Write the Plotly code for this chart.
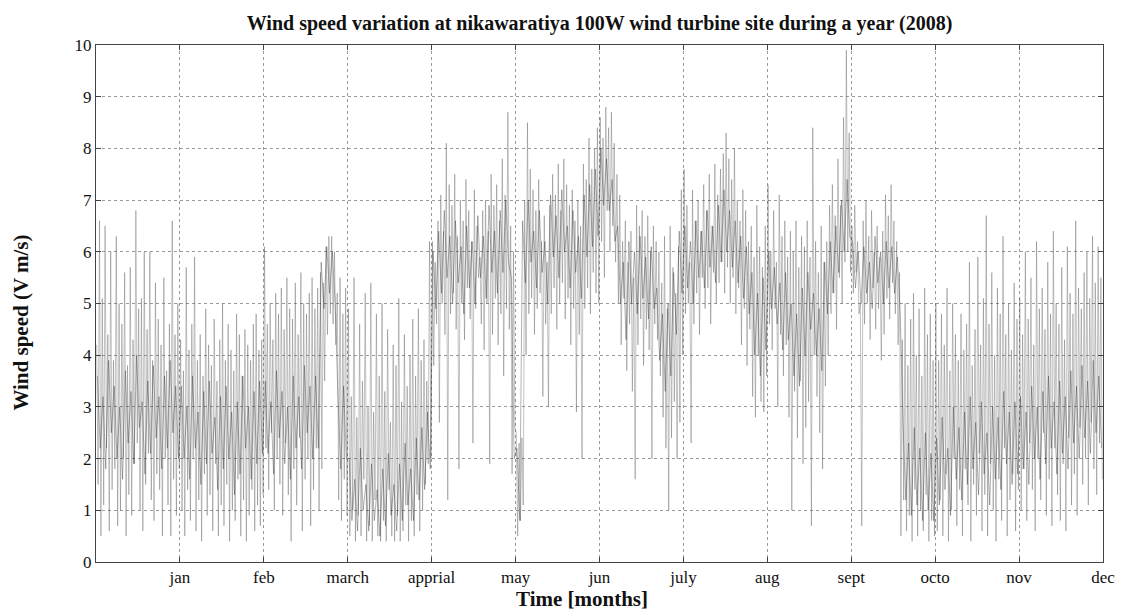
import plotly.graph_objects as go

# Month tick labels (x axis in month units, 0..12)
month_ticks = [1, 2, 3, 4, 5, 6, 7, 8, 9, 10, 11, 12]
month_labels = ["jan", "feb", "march", "apprial", "may", "jun", "july",
                "aug", "sept", "octo", "nov", "dec"]

# Daily maximum / minimum wind speed (m/s), 30 readings per month segment,
# read from the picture segment by segment (segment k spans x = k .. k+1)
daily_max = [
    # 0-1
    4.2, 6.6, 5.1, 6.5, 4.4, 6.0, 3.9, 6.3, 5.0, 4.6, 5.6, 3.8, 5.7, 4.3, 6.8,
    4.9, 5.1, 6.0, 4.5, 6.0, 3.9, 5.4, 4.7, 4.2, 5.5, 3.7, 4.6, 6.6, 4.4, 5.0,
    # 1-2
    4.3, 3.7, 5.7, 4.1, 4.6, 5.9, 3.9, 4.4, 3.6, 4.9, 4.2, 3.8, 4.7, 3.5, 4.3,
    5.0, 3.9, 4.6, 4.1, 3.7, 4.8, 4.4, 3.6, 4.5, 4.2, 3.9, 4.6, 4.8, 4.1, 4.3,
    # 2-3
    6.1, 4.6, 5.0, 4.3, 5.2, 4.8, 5.3, 4.5, 5.5, 4.9, 4.7, 5.4, 4.4, 5.6, 5.0,
    4.8, 5.2, 5.5, 4.9, 5.3, 5.6, 5.4, 6.1, 6.3, 6.3, 6.0, 5.2, 5.5, 4.8, 5.3,
    # 3-4
    4.9, 3.2, 5.5, 2.8, 4.6, 3.5, 5.2, 3.0, 5.4, 2.9, 4.8, 3.6, 5.0, 3.3, 4.5,
    2.7, 4.2, 3.8, 5.1, 3.1, 4.4, 3.4, 4.0, 4.7, 3.6, 4.9, 3.9, 4.3, 3.5, 6.2,
    # 4-5
    6.2, 5.8, 6.6, 7.1, 6.4, 8.1, 7.3, 6.9, 7.5, 6.3, 7.0, 6.6, 7.4, 6.8, 6.2,
    7.2, 6.5, 5.9, 6.8, 7.0, 6.4, 7.5, 6.9, 7.3, 6.6, 7.8, 7.1, 8.7, 6.5, 6.0,
    # 5-6
    2.5, 2.3, 2.4, 7.0, 8.5, 7.6, 7.2, 6.8, 7.4, 6.2, 6.7, 5.8, 6.9, 7.5, 7.1,
    7.7, 6.8, 7.8, 7.3, 6.9, 7.2, 6.6, 7.0, 6.5, 7.7, 7.4, 8.2, 7.6, 8.0, 8.4,
    # 6-7
    8.6, 8.2, 8.8, 8.4, 8.7, 8.1, 7.5, 7.1, 6.2, 6.6, 5.8, 6.4, 5.5, 6.9, 6.5,
    6.8, 6.3, 6.7, 6.0, 6.5, 6.2, 6.0, 5.4, 6.3, 4.9, 6.5, 5.7, 5.2, 6.1, 7.2,
    # 7-8
    7.6, 6.9, 5.8, 7.2, 6.6, 7.0, 6.4, 7.3, 6.8, 7.5, 6.5, 7.7, 7.1, 7.6, 7.9,
    8.3, 7.8, 7.4, 8.0, 7.0, 6.6, 7.2, 6.8, 6.2, 6.5, 5.9, 6.9, 6.1, 5.7, 6.5,
    # 8-9
    7.3, 6.0, 6.8, 5.8, 7.1, 6.3, 6.6, 5.9, 6.4, 6.0, 6.6, 5.7, 6.3, 6.1, 6.6,
    5.9, 8.4, 6.2, 5.6, 6.5, 5.8, 6.2, 6.9, 7.3, 6.7, 7.8, 6.9, 8.6, 9.9, 8.3,
    # 9-10
    6.5, 6.9, 6.2, 5.0, 6.6, 7.0, 6.3, 6.8, 6.0, 6.5, 5.9, 6.4, 7.1, 6.7, 7.3,
    6.6, 6.2, 5.6, 4.3, 5.0, 3.8, 4.7, 5.2, 4.0, 4.9, 3.6, 5.3, 4.4, 4.8, 3.9,
    # 10-11
    5.0, 3.9, 4.8, 4.2, 5.3, 3.7, 5.0, 4.4, 3.9, 4.8, 4.1, 4.6, 5.8, 3.8, 4.5,
    5.9, 4.2, 5.1, 6.7, 4.6, 5.6, 4.0, 5.3, 4.8, 6.3, 4.4, 5.0, 4.1, 5.4, 4.7,
    # 11-12
    5.1, 4.4, 6.0, 4.7, 5.5, 4.2, 6.2, 4.9, 5.3, 4.5, 5.8, 4.8, 6.4, 5.0, 4.6,
    5.7, 4.3, 6.1, 5.2, 4.8, 6.6, 5.3, 4.9, 5.6, 6.0, 5.1, 6.3, 5.4, 6.1, 5.5,
]

daily_min = [
    # 0-1
    1.5, 0.5, 1.1, 2.2, 0.6, 1.4, 1.8, 0.7, 1.0, 2.0, 0.5, 1.3, 0.9, 1.9, 2.3,
    1.0, 0.6, 1.5, 2.1, 1.2, 0.8, 1.7, 1.4, 0.5, 2.0, 1.1, 0.5, 1.6, 0.9, 1.8,
    # 1-2
    1.0, 0.5, 1.4, 0.8, 2.0, 0.6, 1.2, 0.4, 1.7, 0.9, 1.3, 0.6, 1.9, 0.5, 1.1,
    0.7, 1.5, 0.4, 1.0, 0.8, 1.6, 0.5, 1.2, 0.4, 0.9, 1.4, 0.6, 1.1, 0.7, 1.3,
    # 2-3
    2.2, 1.4, 2.5, 1.0, 2.0, 1.5, 0.9, 2.3, 1.3, 0.4, 1.8, 1.1, 2.4, 0.6, 1.6,
    2.0, 0.7, 1.4, 2.2, 1.0, 1.8, 3.5, 4.4, 4.8, 4.6, 4.2, 1.2, 0.8, 1.6, 0.9,
    # 3-4
    0.5, 1.0, 0.4, 0.9, 0.5, 1.6, 0.4, 0.7, 0.4, 1.2, 0.5, 0.4, 0.8, 0.4, 1.4,
    0.5, 0.4, 0.9, 0.4, 0.6, 1.1, 0.4, 0.8, 0.5, 1.3, 0.6, 1.0, 1.5, 1.9, 2.0,
    # 4-5
    3.8, 4.6, 2.7, 5.0, 4.4, 1.2, 4.8, 5.2, 4.5, 1.8, 5.0, 4.3, 5.3, 4.7, 2.3,
    4.9, 5.5, 4.6, 4.1, 5.0, 1.9, 4.4, 5.1, 4.2, 4.8, 3.6, 4.9, 4.5, 1.7, 2.6,
    # 5-6
    0.5, 0.8, 1.1, 4.0, 4.8, 5.1, 4.4, 4.9, 5.2, 3.2, 4.6, 3.0, 4.8, 5.3, 4.5,
    5.0, 5.4, 4.7, 5.1, 4.2, 4.9, 2.9, 4.4, 2.0, 4.9, 5.3, 4.8, 5.6, 5.2, 5.0,
    # 6-7
    6.2, 5.5, 6.8, 6.0, 6.5, 5.8, 5.0, 4.2, 5.1, 3.7, 4.6, 3.3, 1.6, 4.2, 4.7,
    3.8, 4.5, 4.1, 2.0, 4.6, 4.3, 3.6, 2.8, 2.2, 1.0, 2.4, 3.1, 2.0, 2.7, 4.0,
    # 7-8
    4.8, 5.0, 2.3, 4.6, 5.2, 4.4, 5.5, 4.9, 5.3, 4.6, 5.6, 5.0, 5.4, 5.8, 5.2,
    5.7, 5.0, 5.5, 4.8, 5.3, 4.2, 4.9, 3.8, 4.5, 3.2, 2.8, 4.0, 3.1, 2.9, 3.6,
    # 8-9
    4.6, 4.1, 4.9, 3.0, 4.4, 3.6, 4.2, 2.8, 1.0, 3.3, 2.4, 3.5, 1.9, 2.6, 3.1,
    0.7, 4.0, 3.2, 2.5, 1.8, 3.4, 4.0, 4.8, 5.2, 4.5, 5.5, 5.0, 5.8, 6.0, 5.6,
    # 9-10
    5.2, 5.6, 4.8, 0.7, 4.6, 5.0, 4.3, 5.3, 4.5, 4.9, 3.9, 4.4, 5.1, 4.7, 5.4,
    4.8, 4.2, 0.5, 1.2, 0.6, 0.9, 0.4, 1.4, 0.5, 1.0, 0.6, 1.3, 0.4, 0.8, 0.5,
    # 10-11
    0.6, 1.2, 0.5, 1.7, 0.4, 1.0, 2.0, 0.7, 1.4, 0.5, 1.8, 1.1, 0.4, 1.5, 0.9,
    2.1, 0.6, 1.3, 0.5, 1.9, 1.0, 0.4, 1.6, 0.8, 2.2, 0.5, 1.2, 1.7, 0.6, 1.4,
    # 11-12
    1.0, 1.8, 0.8, 2.3, 1.4, 0.6, 2.0, 1.2, 2.5, 0.9, 1.6, 0.7, 2.2, 1.3, 0.8,
    1.9, 0.6, 2.4, 1.1, 1.7, 0.9, 2.6, 1.5, 2.0, 1.1, 2.7, 1.8, 1.3, 2.3, 1.6,
]

# Dense dark core of the record: typical upper / lower speeds every two days
core_upper = [
    3.6, 3.2, 3.9, 3.4, 3.0, 3.7, 3.3, 4.0, 3.1, 3.5, 3.8, 3.2, 3.6, 3.9, 3.4,
    3.4, 3.0, 3.6, 2.9, 3.3, 3.5, 2.8, 3.2, 3.4, 2.9, 3.1, 3.6, 3.0, 3.3, 3.5,
    3.5, 3.1, 3.7, 3.3, 3.0, 3.6, 3.2, 3.8, 3.4, 3.6, 5.8, 6.1, 6.0, 3.2, 3.4,
    2.0, 1.6, 2.2, 1.5, 1.9, 1.4, 1.8, 2.1, 1.5, 1.9, 2.3, 1.8, 2.4, 2.6, 2.9,
    6.0, 6.4, 6.8, 6.3, 6.6, 6.1, 6.5, 6.2, 6.7, 6.3, 6.9, 6.4, 6.8, 7.0, 5.5,
    2.2, 6.6, 7.0, 6.4, 6.8, 6.2, 7.1, 6.7, 7.2, 6.5, 6.8, 6.3, 7.1, 7.3, 7.6,
    8.0, 7.8, 7.4, 6.5, 5.8, 6.2, 6.0, 6.3, 5.9, 6.1, 5.3, 4.8, 5.0, 5.6, 6.4,
    6.5, 6.2, 6.6, 6.4, 6.8, 6.5, 6.9, 7.2, 6.8, 6.6, 6.3, 6.1, 5.6, 5.2, 5.5,
    6.0, 5.7, 5.4, 5.6, 5.0, 4.8, 5.3, 5.6, 5.2, 4.9, 5.8, 6.2, 6.5, 7.0, 7.4,
    6.2, 6.0, 6.1, 5.8, 6.3, 6.0, 6.2, 6.1, 5.9, 2.7, 2.3, 2.6, 2.2, 2.5, 2.1,
    2.4, 2.8, 2.2, 3.0, 2.6, 2.9, 3.2, 2.7, 3.1, 2.5, 3.0, 2.8, 3.3, 2.9, 3.1,
    3.2, 2.9, 3.4, 3.0, 3.3, 3.6, 3.1, 3.5, 3.2, 3.7, 3.4, 3.8, 3.5, 3.9, 3.6,
]
core_lower = [
    2.2, 1.8, 2.5, 2.0, 1.6, 2.3, 1.9, 2.6, 1.7, 2.1, 2.4, 1.8, 2.2, 2.5, 2.0,
    2.0, 1.6, 2.2, 1.5, 1.9, 2.1, 1.4, 1.8, 2.0, 1.3, 1.7, 2.2, 1.6, 1.9, 2.1,
    2.1, 1.7, 2.4, 1.9, 1.6, 2.2, 1.8, 2.5, 2.0, 2.2, 4.9, 5.2, 5.0, 1.8, 2.0,
    0.8, 0.6, 1.0, 0.6, 0.8, 0.5, 0.7, 0.9, 0.6, 0.8, 1.1, 0.8, 1.2, 1.4, 1.8,
    4.9, 5.2, 5.5, 5.0, 5.4, 4.8, 5.3, 5.0, 5.5, 5.1, 5.6, 5.2, 5.6, 5.8, 2.0,
    0.8, 5.4, 5.8, 5.3, 5.6, 5.0, 5.9, 5.5, 6.0, 5.3, 5.6, 5.1, 5.9, 6.1, 6.3,
    6.9, 6.8, 6.2, 5.0, 4.3, 5.0, 4.8, 5.1, 4.7, 4.9, 3.9, 3.3, 3.6, 4.4, 5.2,
    5.3, 5.0, 5.5, 5.3, 5.7, 5.4, 5.8, 6.0, 5.7, 5.4, 5.1, 4.8, 4.0, 3.6, 4.1,
    4.9, 4.6, 4.1, 4.3, 3.6, 3.4, 4.0, 4.5, 4.0, 3.7, 4.8, 5.2, 5.6, 6.0, 6.3,
    5.3, 5.0, 5.2, 4.9, 5.4, 5.0, 5.3, 5.2, 4.8, 1.2, 0.9, 1.1, 0.8, 1.0, 0.8,
    1.1, 1.4, 0.9, 1.6, 1.2, 1.5, 1.8, 1.3, 1.7, 1.1, 1.6, 1.4, 1.9, 1.5, 1.7,
    1.8, 1.5, 2.0, 1.6, 1.9, 2.2, 1.7, 2.1, 1.8, 2.3, 2.0, 2.4, 2.1, 2.5, 2.2,
]

title_text = "Wind speed variation at nikawaratiya 100W wind turbine site during a year (2008)"
x_title = "Time [months]"
y_title = "Wind speed (V m/s)"


def zigzag(upper, lower):
    """Time-ordered series alternating between an upper and a lower reading."""
    per_unit = len(upper) / 12.0
    xs, ys = [], []
    for i in range(len(upper)):
        xs.append((i + 0.25) / per_unit)
        ys.append(upper[i])
        xs.append((i + 0.75) / per_unit)
        ys.append(lower[i])
    return xs, ys


x_full, y_full = zigzag(daily_max, daily_min)
x_core, y_core = zigzag(core_upper, core_lower)

fig = go.Figure()
fig.add_trace(go.Scatter(
    x=x_full, y=y_full, mode="lines",
    line=dict(color="rgba(85,85,85,0.6)", width=0.6),
    showlegend=False, hoverinfo="skip",
))
fig.add_trace(go.Scatter(
    x=x_core, y=y_core, mode="lines",
    line=dict(color="rgba(40,40,40,0.45)", width=0.8),
    showlegend=False, hoverinfo="skip",
))

font_family = "Liberation Serif, Times New Roman, serif"
fig.update_layout(
    width=1125, height=614,
    margin=dict(l=88, r=30, t=37, b=60),
    paper_bgcolor="white", plot_bgcolor="white",
    font=dict(family=font_family, size=17, color="#111"),
    title=dict(text="<b>" + title_text + "</b>", xref="paper", x=0.5, xanchor="center",
               yref="container", y=0.976, yanchor="middle",
               font=dict(size=20, family=font_family, color="#111")),
    annotations=[
        dict(text="<b>" + x_title + "</b>", xref="paper", yref="paper",
             x=0.483, y=-0.072, xanchor="center", yanchor="middle",
             showarrow=False, font=dict(size=21, family=font_family, color="#111")),
        dict(text="<b>" + y_title + "</b>", xref="paper", yref="paper",
             x=-0.074, y=0.464, xanchor="center", yanchor="middle", textangle=-90,
             showarrow=False, font=dict(size=21, family=font_family, color="#111")),
    ],
)
fig.update_xaxes(
    range=[0, 12], tickvals=month_ticks, ticktext=month_labels,
    showgrid=True, gridcolor="#9a9a9a", griddash="dot", gridwidth=1,
    showline=True, linecolor="#444", linewidth=1, mirror="ticks",
    ticks="inside", ticklen=5, tickcolor="#444",
    zeroline=False, tickfont=dict(size=17),
)
fig.update_yaxes(
    range=[0, 10], tickvals=list(range(0, 11)),
    showgrid=True, gridcolor="#9a9a9a", griddash="dot", gridwidth=1,
    showline=True, linecolor="#444", linewidth=1, mirror="ticks",
    ticks="inside", ticklen=5, tickcolor="#444",
    zeroline=False, tickfont=dict(size=17),
)

fig.write_html("out.html")
